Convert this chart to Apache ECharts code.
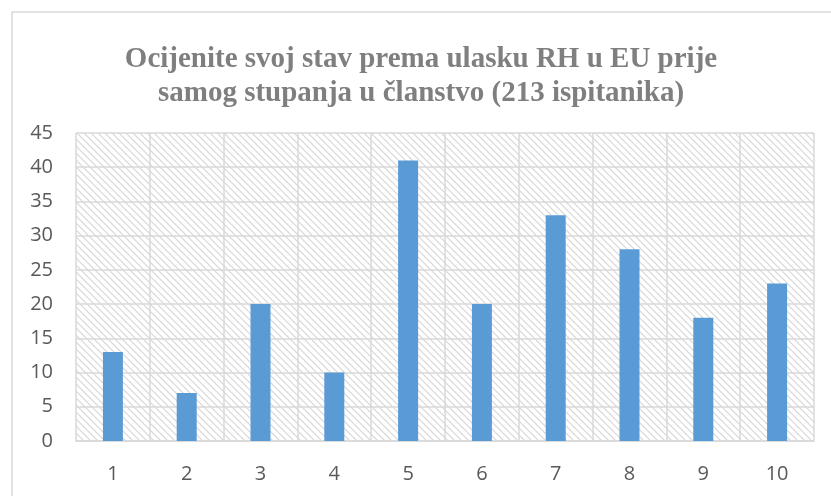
<!DOCTYPE html>
<html><head><meta charset="utf-8">
<script src="https://cdn.jsdelivr.net/npm/echarts@6/dist/echarts.min.js"></script>
<style>html,body{margin:0;padding:0;background:#fff}#c{width:831px;height:496px}</style>
</head><body><div id="c"></div>
<script>
var categories = ['1','2','3','4','5','6','7','8','9','10'];
var values = [13, 7, 20, 10, 41, 20, 33, 28, 18, 23];
var titleLines = ['Ocijenite svoj stav prema ulasku RH u EU prije', 'samog stupanja u članstvo (213 ispitanika)'];

var tile = document.createElement('canvas');
tile.width = 7; tile.height = 7;
var g = tile.getContext('2d');
g.fillStyle = '#ffffff'; g.fillRect(0,0,7,7);
g.strokeStyle = '#d6d6d6'; g.lineWidth = 1.2;
g.beginPath();
g.moveTo(-1,-1); g.lineTo(8,8);
g.moveTo(-8,-1); g.lineTo(1,8);
g.moveTo(6,-1); g.lineTo(15,8);
g.stroke();

var labelFont = 'Open Sans';
var labelStyle = {color: '#595959', fontSize: 20, fontFamily: labelFont, fontWeight: 'normal'};
var chart = echarts.init(document.getElementById('c'));
chart.setOption({
  animation: false,
  textStyle: {fontFamily: labelFont, color: '#595959'},
  title: {
    text: titleLines.join('\n'),
    left: 416, top: 38, textAlign: 'center',
    textStyle: {fontFamily: 'Liberation Serif', fontWeight: 'bold', fontSize: 29, color: '#7f7f7f', lineHeight: 34}
  },
  graphic: [{
    type: 'rect', shape: {x: 12, y: 12, width: 830, height: 500},
    style: {fill: 'none', stroke: '#d9d9d9', lineWidth: 1.5}, silent: true, z: -1
  }],
  grid: {left: 76, right: 17, top: 133, bottom: 55, show: true, borderWidth: 0,
    backgroundColor: {image: tile, repeat: 'repeat'}},
  xAxis: {
    type: 'category', data: categories,
    axisLine: {show: true, lineStyle: {color: '#d9d9d9', width: 1.5}},
    axisTick: {show: false},
    splitLine: {show: true, interval: 0, lineStyle: {color: '#d9d9d9', width: 1.5}},
    axisLabel: Object.assign({margin: 23}, labelStyle)
  },
  yAxis: {
    type: 'value', min: 0, max: 45, interval: 5,
    axisLine: {show: false}, axisTick: {show: false},
    splitLine: {lineStyle: {color: '#d9d9d9', width: 1.5}},
    axisLabel: Object.assign({margin: 23}, labelStyle)
  },
  series: [{
    type: 'bar', data: values, barWidth: 20,
    itemStyle: {color: '#5b9bd5'}
  }]
});
</script></body></html>
